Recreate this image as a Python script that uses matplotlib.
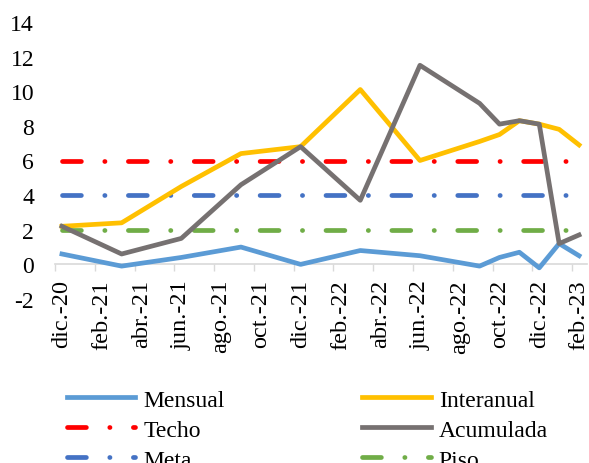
import numpy as np
import pandas as pd
from matplotlib import pyplot as plt

plt.rcParams['font.family'] = 'serif'
plt.rcParams['font.serif'] = ['Liberation Serif', 'DejaVu Serif']
plt.rcParams['axes.unicode_minus'] = False

# fechas de cada punto (trimestral y luego mensual)
fechas = ['2020-12', '2021-03', '2021-06', '2021-09', '2021-12', '2022-03',
          '2022-06', '2022-09', '2022-10', '2022-11', '2022-12', '2023-01', '2023-02']
mensual = [0.6, -0.1, 0.4, 1.0, 0.0, 0.8, 0.5, -0.1, 0.4, 0.7, -0.2, 1.2, 0.5]
interanual = [2.2, 2.4, 4.5, 6.4, 6.8, 10.1, 6.0, 7.1, 7.5, 8.3, 8.1, 7.8, 6.9]
acumulada = [2.2, 0.6, 1.5, 4.6, 6.8, 3.7, 11.5, 9.3, 8.1, 8.3, 8.1, 1.2, 1.7]
techo = [6] * len(fechas)
meta = [4] * len(fechas)
piso = [2] * len(fechas)

etiquetas = ['dic.-20', 'feb.-21', 'abr.-21', 'jun.-21', 'ago.-21', 'oct.-21', 'dic.-21',
             'feb.-22', 'abr.-22', 'jun.-22', 'ago.-22', 'oct.-22', 'dic.-22', 'feb.-23']

per = pd.PeriodIndex(fechas, freq='M')
x = np.array([(p - per[0]).n for p in per])

fig = plt.figure(figsize=(5.89, 4.64), dpi=100)
ax = fig.add_axes([55 / 589, 164 / 464, 532 / 589, 277 / 464])

lw = 3.4
pat = (4.0, 4.95, 0.05, 4.95)
for vals, col, lab in [(techo, '#FF0000', 'Techo'), (meta, '#4472C4', 'Meta'), (piso, '#70AD47', 'Piso')]:
    ax.plot(x, vals, color=col, lw=lw, dashes=pat, dash_capstyle='round', label=lab, zorder=2)

ax.plot(x, mensual, color='#5B9BD5', lw=lw, label='Mensual', zorder=3)
ax.plot(x, interanual, color='#FFC000', lw=lw, label='Interanual', zorder=3)
ax.plot(x, acumulada, color='#767171', lw=lw, label='Acumulada', zorder=4)

ax.set_xlim(-0.35, 26.4)
ax.set_ylim(-2, 14)
ax.set_yticks(range(-2, 15, 2))
ax.set_xticks(range(0, 27, 2))
ax.set_xticklabels(etiquetas)
ax.set_xticks(np.arange(0, 27, 2) - 0.35, minor=True)
ax.tick_params(axis='x', which='major', length=0, pad=10.5, labelsize=17.5, labelrotation=90)
ax.tick_params(axis='x', which='minor', length=5, width=1, color='#D9D9D9', direction='out')
ax.tick_params(axis='y', length=0, pad=15, labelsize=17)

for s in ['top', 'right', 'left']:
    ax.spines[s].set_visible(False)
ax.spines['bottom'].set_position(('data', 0))
ax.spines['bottom'].set_color('#D9D9D9')
ax.spines['bottom'].set_linewidth(1.2)

h, l = ax.get_legend_handles_labels()
orden = ['Mensual', 'Techo', 'Meta', 'Interanual', 'Acumulada', 'Piso']
hh = [h[l.index(n)] for n in orden]
fig.legend(hh, orden, loc='upper left', bbox_to_anchor=(67 / 589, 1 - 390 / 464), ncol=2,
           frameon=False, fontsize=17, handlelength=2.9, handletextpad=0.35,
           columnspacing=5.8, labelspacing=0.36, borderpad=0, borderaxespad=0)

fig.savefig('out.png', dpi=100)
